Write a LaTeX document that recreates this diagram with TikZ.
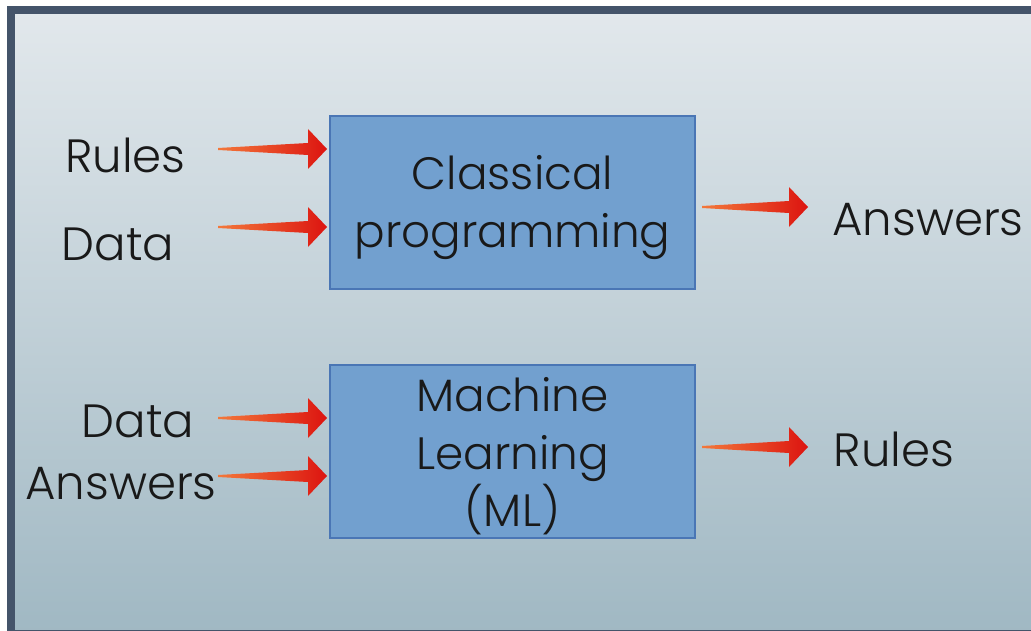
\documentclass[tikz,border=0pt]{standalone}
\usepackage{fontspec}
\setmainfont{Poppins Light}
\usetikzlibrary{calc}
\definecolor{framecol}{HTML}{44546A}
\definecolor{bgtop}{HTML}{E2E8EC}
\definecolor{bgbot}{HTML}{A0B8C3}
\definecolor{boxfill}{HTML}{72A0CF}
\definecolor{boxline}{HTML}{4A76B5}
\definecolor{arrowtail}{HTML}{F3783A}
\definecolor{arrowhead}{HTML}{DC1410}
\tikzset{
  label text/.style={font=\fontsize{35}{43}\selectfont, text=black!90, inner sep=0pt, anchor=base},
  procbox/.style={draw=boxline, line width=1.5pt, fill=boxfill, minimum width=273.75pt,
    minimum height=129.75pt, inner sep=0pt},
  boxtext/.style={align=center, font=\fontsize{34}{43}\selectfont, text=black!90, inner sep=0pt},
}
% tapered arrow from a free tail to a tip
\newcommand\taperarrow[2]{%
  \shade[left color=arrowtail, right color=arrowhead]
    ($(#1)+(0,-1)$) -- ($(#2)+(-19,-6)$) -- ($(#2)+(-19,-20)$) -- (#2)
    -- ($(#2)+(-19,20)$) -- ($(#2)+(-19,6)$) -- ($(#1)+(0,1)$) -- cycle;}
\begin{document}
\begin{tikzpicture}[x=0.75pt,y=-0.75pt]
\useasboundingbox (0,0) rectangle (1031,631);
\fill[white] (0,0) rectangle (1031,631);
% panel
\shade[top color=bgtop, bottom color=bgbot] (11,10) rectangle (1035,634);
\draw[framecol, line width=6pt] (11,10) rectangle (1035,634);

% processing boxes
\node[procbox] (cp) at (512.5,202.5) {};
\node[procbox] (ml) at (512.5,451.5) {};
\node[boxtext] (cpt) at ($(cp.center)+(0,5)$) {Classical\\programming};
\node[boxtext] (mlt) at ($(ml.center)+(0,5)$) {Machine\\Learning\\(ML)};

% labels
\node[label text] (rin) at (125.5,172) {Rules};
\node[label text] (din) at (118,260) {Data};
\node[label text] (aout) at (928,235) {Answers};
\node[label text] (din2) at (138,437) {Data};
\node[label text] (ain) at (121,499) {Answers};
\node[label text] (rout) at (894,466) {Rules};

% arrow tails and tips
\coordinate (t1) at (218,149);
\coordinate (t2) at (218,227);
\coordinate (t3) at (218,418);
\coordinate (t4) at (218,476);
\coordinate (h5) at (808,207);
\coordinate (h6) at (808,447);
\coordinate (h1) at ($(t1 -| cp.west)+(-2,0)$);
\coordinate (h2) at ($(t2 -| cp.west)+(-2,0)$);
\coordinate (h3) at ($(t3 -| ml.west)+(-2,0)$);
\coordinate (h4) at ($(t4 -| ml.west)+(-2,0)$);
\coordinate (t5) at ($(h5 -| cp.east)+(6,0)$);
\coordinate (t6) at ($(h6 -| ml.east)+(6,0)$);

\taperarrow{t1}{h1}
\taperarrow{t2}{h2}
\taperarrow{t3}{h3}
\taperarrow{t4}{h4}
\taperarrow{t5}{h5}
\taperarrow{t6}{h6}
\end{tikzpicture}
\end{document}
